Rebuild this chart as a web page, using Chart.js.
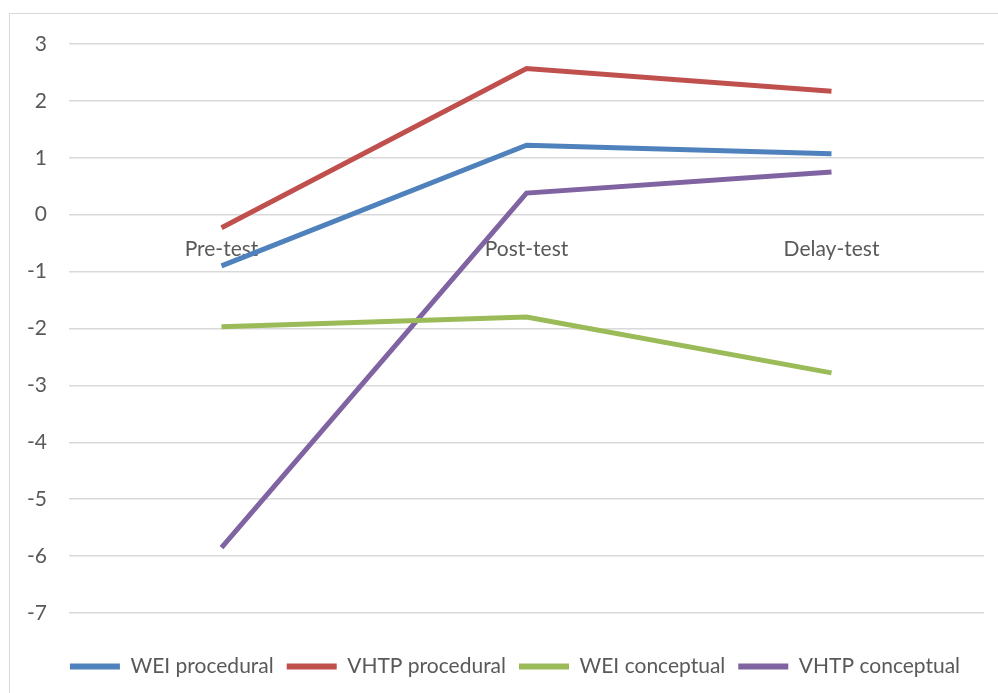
<!DOCTYPE html>
<html>
<head>
<meta charset="utf-8">
<script src="https://cdn.jsdelivr.net/npm/chart.js@4"></script>
<style>
  html, body { margin: 0; padding: 0; background: #fff; overflow: hidden; }
  #frame { position: absolute; left: 9px; top: 13px; width: 1100px; height: 800px; border: 1.5px solid #d9d9d9; }
  #c { position: absolute; left: 0; top: 0; }
</style>
</head>
<body>
<div id="frame"></div>
<canvas id="c" width="998" height="693"></canvas>
<script>
const categories = ["Pre-test", "Post-test", "Delay-test"];
const weiProcedural = [-0.90, 1.22, 1.07];
const vhtpProcedural = [-0.23, 2.57, 2.17];
const weiConceptual = [-1.97, -1.80, -2.78];
const vhtpConceptual = [-5.85, 0.38, 0.75];
const seriesNames = ["WEI procedural", "VHTP procedural", "WEI conceptual", "VHTP conceptual"];
const yMin = -7, yMax = 3, yStep = 1;

const colors = ["#4F81BD", "#C0504D", "#9BBB59", "#8064A2"];
const allSeries = [weiProcedural, vhtpProcedural, weiConceptual, vhtpConceptual];
const textColor = "#595959";
const fontFamily = "Lato, 'Open Sans', sans-serif";

const datasets = allSeries.map((d, i) => ({
  label: seriesNames[i],
  data: d,
  borderColor: colors[i],
  backgroundColor: colors[i],
  borderWidth: 5,
  pointRadius: 0,
  pointHoverRadius: 0,
  tension: 0,
  fill: false
}));

// shift the legend horizontally (Excel centres it slightly differently)
const legendShift = {
  id: "legendShift",
  afterLayout(chart, args, opts) {
    const lg = chart.legend;
    if (lg) { lg.left += opts.dx; lg.right += opts.dx; if (lg.adjustHitBoxes) lg.adjustHitBoxes(); }
  }
};

new Chart(document.getElementById("c"), {
  type: "line",
  data: { labels: categories, datasets },
  plugins: [legendShift],
  options: {
    responsive: false,
    animation: false,
    devicePixelRatio: 1,
    layout: { padding: { left: 0, right: 14, top: 44, bottom: 6 } },
    plugins: {
      tooltip: { enabled: false },
      legendShift: { dx: 23 },
      legend: {
        position: "bottom",
        fullSize: true,
        title: { display: true, text: " ", font: { size: 10, lineHeight: 1 }, padding: { top: 20, bottom: 0 } },
        labels: {
          color: textColor,
          font: { family: fontFamily, size: 21 },
          boxWidth: 50,
          boxHeight: 6,
          padding: 13,
          generateLabels: (chart) => chart.data.datasets.map((ds, i) => ({
            text: ds.label,
            fillStyle: ds.borderColor,
            strokeStyle: ds.borderColor,
            lineWidth: 0,
            fontColor: textColor,
            datasetIndex: i,
            hidden: false
          }))
        }
      }
    },
    scales: {
      x: {
        type: "category",
        offset: true,
        position: { y: 0 },
        grid: { display: false, drawTicks: false },
        border: { display: false },
        ticks: {
          color: textColor,
          font: { family: fontFamily, size: 21 },
          padding: 22,
          maxRotation: 0
        }
      },
      y: {
        min: yMin,
        max: yMax,
        afterFit: (scale) => { scale.width = 69; },
        grid: { color: "#d9d9d9", lineWidth: 1.5, drawTicks: false },
        border: { display: false },
        ticks: {
          stepSize: yStep,
          color: textColor,
          font: { family: fontFamily, size: 21 },
          padding: 22
        }
      }
    }
  }
});
</script>
</body>
</html>
